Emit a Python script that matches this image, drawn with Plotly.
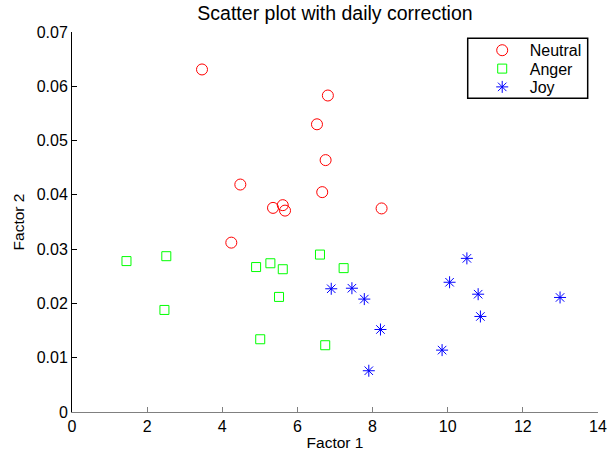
import plotly.graph_objects as go

neutral_x = [3.46, 4.48, 5.35, 5.61, 5.67, 6.52, 6.81, 6.75, 6.66, 4.24, 8.24]
neutral_y = [0.0631, 0.0419, 0.0376, 0.0381, 0.0371, 0.0530, 0.0583, 0.0464, 0.0405, 0.0312, 0.0375]

anger_x = [1.45, 2.51, 2.46, 4.90, 5.28, 5.61, 5.51, 5.01, 6.60, 7.23, 6.74]
anger_y = [0.0278, 0.0287, 0.0188, 0.0267, 0.0274, 0.0263, 0.0212, 0.0134, 0.0290, 0.0265, 0.0123]

joy_x = [6.90, 7.45, 7.78, 8.21, 7.90, 9.85, 10.05, 10.51, 10.81, 10.87, 12.99]
joy_y = [0.0227, 0.0228, 0.0208, 0.0152, 0.0076, 0.0114, 0.0239, 0.0283, 0.0217, 0.0176, 0.0211]

x_ticks = [0, 2, 4, 6, 8, 10, 12, 14]
y_ticks = [0, 0.01, 0.02, 0.03, 0.04, 0.05, 0.06, 0.07]
y_tick_labels = ["0", "0.01", "0.02", "0.03", "0.04", "0.05", "0.06", "0.07"]

FONT = "Liberation Sans, Arial, sans-serif"

fig = go.Figure()
fig.add_trace(go.Scatter(x=neutral_x, y=neutral_y, mode="markers", name="Neutral", legend="legend",
                         marker=dict(symbol="circle-open", size=11, color="#ff0000", line=dict(width=1))))
fig.add_trace(go.Scatter(x=anger_x, y=anger_y, mode="markers", name="Anger", legend="legend2",
                         marker=dict(symbol="square-open", size=9, color="#00ff00", line=dict(width=1))))
fig.add_trace(go.Scatter(x=joy_x, y=joy_y, mode="markers", name="Joy", legend="legend3",
                         marker=dict(symbol="asterisk-open", size=10, color="#0000ff", line=dict(width=1))))

leg_common = dict(x=0.7656, xanchor="left", yanchor="middle", borderwidth=0,
                  bgcolor="rgba(0,0,0,0)", font=dict(size=16), itemwidth=45)

fig.update_layout(
    width=608, height=454,
    margin=dict(l=72, r=10, t=32, b=42, autoexpand=False),
    paper_bgcolor="white", plot_bgcolor="white",
    hovermode=False,
    font=dict(family=FONT, size=16, color="black"),
    title=dict(text="Scatter plot with daily correction", xref="paper", x=0.5, xanchor="center",
               y=0.971, yanchor="middle", font=dict(size=19.5, color="black"),
               automargin=False),
    xaxis=dict(range=[0, 14], tickvals=x_ticks, ticks="inside", ticklen=5, tickcolor="#808080",
               showline=True, linecolor="#808080", linewidth=1, showgrid=False, zeroline=False,
               automargin=False, tickfont=dict(size=16),
               title=dict(text="Factor 1", standoff=2, font=dict(size=15.5))),
    yaxis=dict(range=[0, 0.07], tickvals=y_ticks, ticktext=y_tick_labels, ticks="inside", ticklen=5,
               tickcolor="black", showline=True, linecolor="black", linewidth=1, showgrid=False,
               zeroline=False, automargin=False, tickfont=dict(size=16),
               title=dict(text="Factor 2", standoff=8, font=dict(size=15.5))),
    legend=dict(y=0.9518, **leg_common),
    legend2=dict(y=0.9034, **leg_common),
    legend3=dict(y=0.8553, **leg_common),
    showlegend=True,
    shapes=[dict(type="rect", xref="paper", yref="paper", x0=0.7523, x1=0.9804, y0=0.8255, y1=0.9834,
                 line=dict(color="black", width=1.5), fillcolor="rgba(0,0,0,0)", layer="above")],
)

fig.write_html("out.html", config={"displayModeBar": False},
               post_script="document.body.style.margin='0px';")
